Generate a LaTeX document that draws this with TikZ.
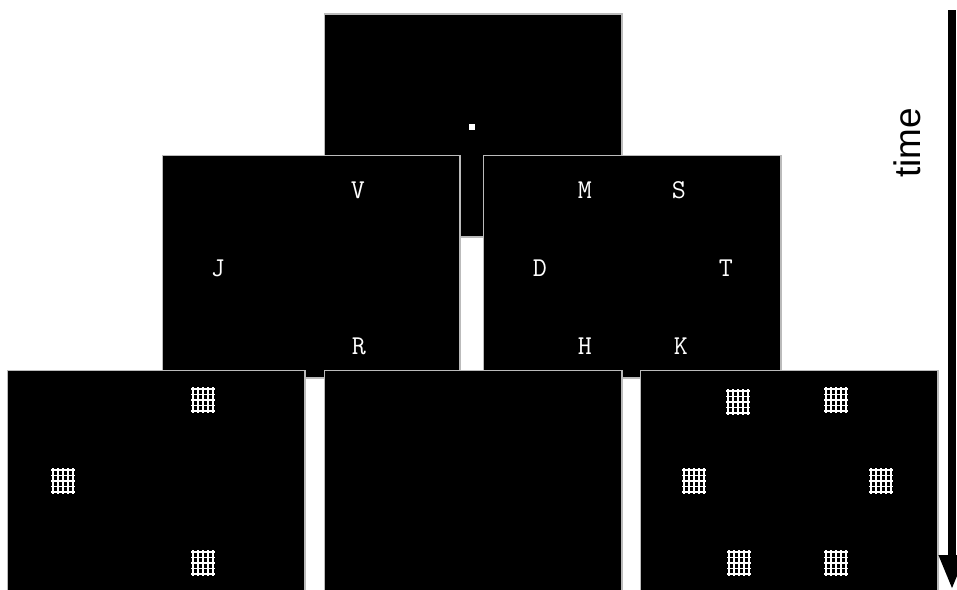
\documentclass[tikz,border=0pt]{standalone}
\usepackage{fontspec}
\setmainfont{Liberation Sans}
\usetikzlibrary{arrows.meta}
\definecolor{sGray}{HTML}{BBBBBB}

\tikzset{
  hashmask/.pic={
    \foreach \d in {-10,-5,0,5,10}
      \draw[white, line width=0.9pt] (\d,-13) -- (\d,13);
    \foreach \d in {-11,-5.5,0,5.5,11}
      \draw[white, line width=0.9pt] (-12,\d) -- (12,\d);
  }
}

\begin{document}
\begin{tikzpicture}[
  x=0.02cm, y=-0.02cm,
  screen/.style={draw=sGray, line width=0.6pt, fill=black, inner sep=0pt,
                 minimum width=5.96cm, minimum height=4.46cm},
  letter/.style={text=white, inner sep=0pt,
                 font=\ttfamily\fontsize{15.5}{15.5}\selectfont},
]
  \useasboundingbox (0,0) rectangle (957,589);
  \clip (0,0) rectangle (957,589);

  % Fixation screen
  \node[screen] (fix) at (473,125.5) {};
  \node[fill=white, minimum size=0.12cm, inner sep=0pt] (dot) at (472,127) {};

  % Letter screens
  \node[screen] (letL) at (311,266.5) {};
  \node[screen] (letR) at (632,266.5) {};

  \node[letter] (lV) at (358,190) {V};
  \node[letter] (lJ) at (218,268) {J};
  \node[letter] (lR) at (359,346) {R};

  \node[letter] (lM) at (585,190) {M};
  \node[letter] (lS) at (679,190) {S};
  \node[letter] (lD) at (540,268) {D};
  \node[letter] (lT) at (726,268) {T};
  \node[letter] (lH) at (585,346) {H};
  \node[letter] (lK) at (681,346) {K};

  % Mask screens
  \node[screen] (maskL) at (156,481.5) {};
  \node[screen] (blank) at (473,481.5) {};
  \node[screen] (maskR) at (789,481.5) {};

  \pic (mL1) at (203,400) {hashmask};
  \pic (mL2) at (63,481) {hashmask};
  \pic (mL3) at (203,563) {hashmask};

  \pic (mR1) at (738,402) {hashmask};
  \pic (mR2) at (836,400) {hashmask};
  \pic (mR3) at (694,481) {hashmask};
  \pic (mR4) at (881,481) {hashmask};
  \pic (mR5) at (739,563) {hashmask};
  \pic (mR6) at (836,563) {hashmask};

  % Time arrow
  \coordinate (tTop) at (952,10);
  \coordinate (tBot) at (952,589);
  \draw[line width=4pt, -{Triangle[length=0.68cm, width=0.5cm]}] (tTop) -- (tBot);
  \node[rotate=90, font=\fontsize{21}{21}\selectfont] (tLabel) at (907,143) {time};
\end{tikzpicture}
\end{document}
